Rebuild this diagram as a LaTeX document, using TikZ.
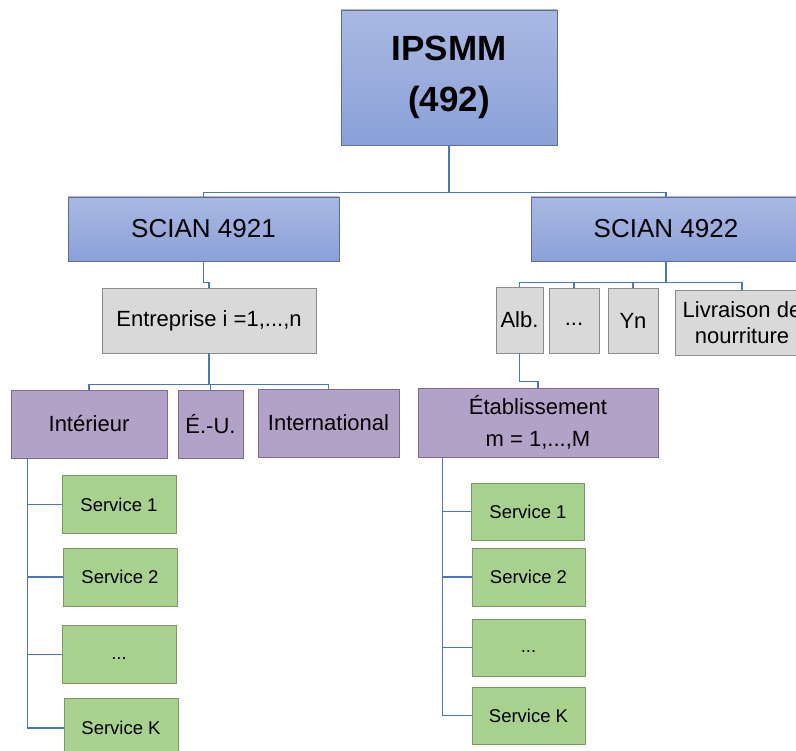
\documentclass[tikz,border=0pt]{standalone}
\usepackage{fontspec}
\setmainfont{Liberation Sans}
\usepackage{tikz}
\usetikzlibrary{positioning}

\definecolor{bluetop}{HTML}{A9B9E2}
\definecolor{bluebot}{HTML}{8AA0D8}
\definecolor{blueedge}{HTML}{5E6D8E}
\definecolor{greyfill}{HTML}{D9D9D9}
\definecolor{greyedge}{HTML}{8C8C8C}
\definecolor{purplefill}{HTML}{B3A2C7}
\definecolor{purpleedge}{HTML}{7D6B90}
\definecolor{greenfill}{HTML}{A9D18E}
\definecolor{greenedge}{HTML}{7C9869}
\definecolor{linkblue}{HTML}{4A74C4}

\begin{document}
\begin{tikzpicture}
    [
    x=1pt,y=-1pt,
    box/.style={rectangle,draw,line width=0.9pt,inner sep=0pt,align=center},
    bluebox/.style={box,draw=blueedge,top color=bluetop,bottom color=bluebot},
    greybox/.style={box,draw=greyedge,fill=greyfill,font=\fontsize{22}{26}\selectfont},
    purplebox/.style={box,draw=purpleedge,fill=purplefill,font=\fontsize{22}{32}\selectfont},
    greenbox/.style={box,draw=greenedge,fill=greenfill,minimum height=58pt,font=\fontsize{18.5}{22}\selectfont},
    link/.style={draw=linkblue,line width=1.2pt},
    ]
    \useasboundingbox (0,0) rectangle (796,751);
    \clip (0,0) rectangle (796,751);

    % top level
    \node (ipsmm) at (449,77.5) [bluebox,minimum width=216pt,minimum height=135pt,
      font=\bfseries\fontsize{35}{51}\selectfont] {IPSMM\\(492)};

    \node (s4921) at (203.5,229) [bluebox,minimum width=271pt,minimum height=64pt,
      font=\fontsize{26}{30}\selectfont] {SCIAN\ 4921};
    \node (s4922) at (666,229) [bluebox,minimum width=270pt,minimum height=64pt,
      font=\fontsize{26}{30}\selectfont] {SCIAN\ 4922};
    \draw [link] (ipsmm.south) -- ++(0,47) -| (s4921.north);
    \draw [link] (ipsmm.south) -- ++(0,47) -| (s4922.north);

    % left branch
    \node (ent) at (209,320.5) [greybox,minimum width=214pt,minimum height=65pt] {Entreprise i =1,...,n};
    \draw [link] (s4921.south) -- ++(0,21) -| (ent.north);

    \node (inter) at (89,424) [purplebox,minimum width=156pt,minimum height=68pt] {Intérieur};
    \node (eu) at (210.5,424.5) [purplebox,minimum width=65pt,minimum height=68pt] {É.-U.};
    \node (intl) at (328.5,423) [purplebox,minimum width=141pt,minimum height=68pt] {International};
    \foreach \n in {inter,eu,intl}
      \draw [link] (ent.south) -- ++(0,31) -| (\n.north);

    \node (ls1) at (119,504.5) [greenbox,minimum width=114pt] {Service 1};
    \node (ls2) at (120,577) [greenbox,minimum width=114pt] {Service 2};
    \node (ls3) at (119,654.5) [greenbox,minimum width=114pt] {\vphantom{Sy}...};
    \node (lsk) at (121,728) [greenbox,minimum width=114pt,minimum height=60pt] {Service K};
    \foreach \n in {ls1,ls2,ls3,lsk}
      \draw [link] ([xshift=17pt]inter.south west) |- (\n.west);

    % right branch
    \node (alb) at (519.5,320) [greybox,minimum width=47pt,minimum height=66pt] {Alb.};
    \node (dots) at (574,320.5) [greybox,minimum width=50pt,minimum height=65pt] {\vphantom{Ay}...};
    \node (yn) at (633,320.5) [greybox,minimum width=50pt,minimum height=65pt] {Yn};
    \node (livr) at (742,322.5) [greybox,minimum width=134pt,minimum height=65pt] {Livraison de\\nourriture};
    \foreach \n in {alb,dots,yn,livr}
      \draw [link] (s4922.south) -- ++(0,21) -| (\n.north);

    \node (etab) at (538,422.5) [purplebox,minimum width=240pt,minimum height=69pt] {Établissement\\m = 1,...,M};
    \draw [link] (alb.south) -- ++(0,28) -| (etab.north);

    \node (rs1) at (528,511.5) [greenbox,minimum width=113pt,minimum height=57pt] {Service 1};
    \node (rs2) at (528.5,577) [greenbox,minimum width=113pt] {Service 2};
    \node (rs3) at (528.5,647.5) [greenbox,minimum width=113pt,minimum height=57pt] {\vphantom{Sy}...};
    \node (rsk) at (528.5,715.5) [greenbox,minimum width=113pt,minimum height=57pt] {Service K};
    \foreach \n in {rs1,rs2,rs3,rsk}
      \draw [link] ([xshift=25pt]etab.south west) |- (\n.west);
  \end{tikzpicture}
\end{document}
